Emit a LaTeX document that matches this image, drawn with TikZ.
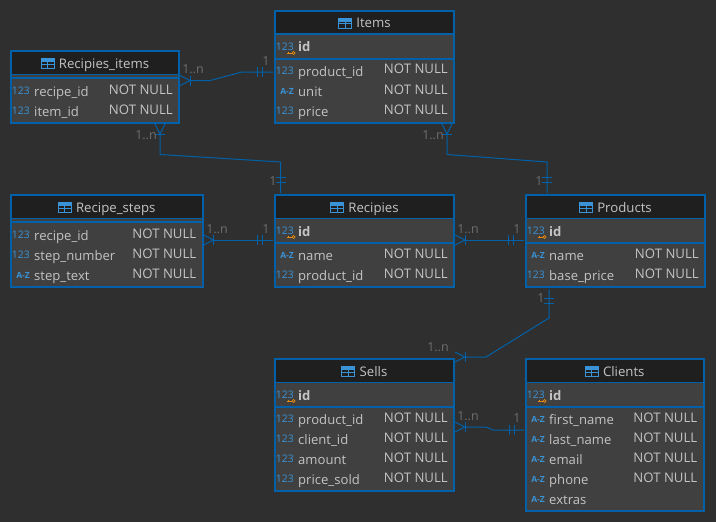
\documentclass[tikz,border=0pt]{standalone}
\usepackage{fontspec}
\setmainfont{Open Sans}
\usetikzlibrary{positioning}

\definecolor{canvasbg}{HTML}{2F2F2F}
\definecolor{headbg}{HTML}{1F1F1F}
\definecolor{rowbg}{HTML}{404040}
\definecolor{erblue}{HTML}{0061A8}
\definecolor{iconblue}{HTML}{3A93D6}
\definecolor{keyorange}{HTML}{E8890C}
\definecolor{coltext}{HTML}{C4C4C4}
\definecolor{cardtext}{HTML}{6E6E6E}

\tikzset{
    tablebody/.style={rectangle, fill=rowbg, inner sep=0pt, outer sep=0pt},
    tableline/.style={draw=erblue, line width=1.2pt},
    tableframe/.style={draw=erblue, line width=2pt},
    tabletitle/.style={text=coltext, font=\fontsize{13.2}{15}\selectfont, inner sep=0pt, text height=9.5pt, text depth=3pt},
    tabicon/.style={rectangle, draw=iconblue, line width=1pt, minimum width=13pt, minimum height=10pt, inner sep=0pt, yshift=1pt,
        path picture={
            \fill[iconblue] (path picture bounding box.north west) rectangle ([yshift=-3pt]path picture bounding box.north east);
            \draw[iconblue, line width=.9pt] (path picture bounding box.west) -- (path picture bounding box.east);
            \draw[iconblue, line width=.9pt] (path picture bounding box.north) -- (path picture bounding box.south);
        }},
    colname/.style={anchor=base west, inner sep=0pt, text=coltext, font=\fontsize{13.1}{15}\selectfont},
    colnull/.style={anchor=base east, inner sep=0pt, text=coltext, font=\fontsize{13.2}{15}\selectfont},
    typeicon/.style={anchor=base east, inner sep=0pt, text=iconblue},
    rel/.style={draw=erblue, line width=1pt},
    card/.style={text=cardtext, inner sep=0pt, font=\fontsize{12.5}{14}\selectfont},
    crow/.pic={
        \draw[rel] (1,-5) -- (11,0) -- (1,5);
        \draw[rel] (11,-5) -- (11,5);
    },
    onebars/.pic={
        \draw[rel] (0,-5) -- (0,5);
        \draw[rel] (5,-5) -- (5,5);
    },
}

% name, x1, y1, x2, y2, end of header, end of key part, title
\newcommand{\ertable}[8]{
    \node[tablebody, minimum width={(#4-#2)*1pt}, minimum height={(#5-#3)*1pt}] (#1) at ({(#2+#4)/2},{(#3+#5)/2}) {};
    \fill[headbg] (#1.north west) rectangle (#1.east |- 0,#6);
    \draw[tableline] (#1.west |- 0,#6) -- (#1.east |- 0,#6);
    \draw[tableline] (#1.west |- 0,#7) -- (#1.east |- 0,#7);
    \draw[tableframe] (#1.north west) rectangle (#1.south east);
    \node[tabletitle] (#1Title) at ({(#2+#4)/2+9},{(#3+#6)/2+2.2}) {#8};
    \node[tabicon, left=4pt of #1Title] (#1Icon) {};
}
\newcommand{\intcol}{\fontsize{10.4}{12}\selectfont 123}
\newcommand{\strcol}{\fontsize{8.5}{10}\selectfont\bfseries A-Z}

% table, row, y, icon, column, null text
\newcommand{\errow}[6]{
    \node[typeicon] (#1Type#2) at ([xshift=19pt]#1.west |- 0,{#3+3.5}) {#4};
    \node[colname] (#1Col#2) at ([xshift=23pt]#1.west |- 0,{#3+5}) {#5};
    \node[colnull] (#1Null#2) at ([xshift=-6pt]#1.east |- 0,{#3+3}) {#6};
}
% table, y
\newcommand{\erkey}[2]{
    \node[typeicon] (#1KeyType) at ([xshift=19pt]#1.west |- 0,{#2+3}) {\intcol};
    \node[colname, font=\fontsize{13.1}{15}\selectfont\bfseries] (#1KeyCol) at ([xshift=23pt]#1.west |- 0,{#2+5}) {id};
    \node[circle, draw=keyorange, line width=.8pt, minimum size=3pt, inner sep=0pt] (#1Key) at ([xshift=18.6pt]#1.west |- 0,{#2+6}) {};
    \draw[keyorange, line width=.8pt] (#1Key.west) -- ++(-4.5,0) ++(1.5,0) -- ++(0,-1.5);
}

\begin{document}
\begin{tikzpicture}[x=1pt, y=-1pt]
    \useasboundingbox[fill=canvasbg] (0,0) rectangle (716,522);

    \ertable{Items}{275}{11}{454}{123}{34}{59}{Items}
    \ertable{RecipiesItems}{11}{51}{179}{123}{74.5}{78}{Recipies\_items}
    \ertable{RecipeSteps}{11}{195}{202.5}{287}{218.5}{222}{Recipe\_steps}
    \ertable{Recipies}{275}{195}{454}{287}{218.5}{243}{Recipies}
    \ertable{Products}{526}{195}{705}{287}{218.5}{243}{Products}
    \ertable{Sells}{275}{359}{454}{491}{382.5}{407}{Sells}
    \ertable{Clients}{526}{359}{703.5}{511}{382.5}{407}{Clients}

    \erkey{Items}{47}
    \errow{Items}{1}{71}{\intcol}{product\_id}{NOT NULL}
    \errow{Items}{2}{91}{\strcol}{unit}{NOT NULL}
    \errow{Items}{3}{111}{\intcol}{price}{NOT NULL}

    \errow{RecipiesItems}{1}{91}{\intcol}{recipe\_id}{NOT NULL}
    \errow{RecipiesItems}{2}{111}{\intcol}{item\_id}{NOT NULL}

    \errow{RecipeSteps}{1}{235}{\intcol}{recipe\_id}{NOT NULL}
    \errow{RecipeSteps}{2}{255}{\intcol}{step\_number}{NOT NULL}
    \errow{RecipeSteps}{3}{275}{\strcol}{step\_text}{NOT NULL}

    \erkey{Recipies}{231}
    \errow{Recipies}{1}{255}{\strcol}{name}{NOT NULL}
    \errow{Recipies}{2}{275}{\intcol}{product\_id}{NOT NULL}

    \erkey{Products}{231}
    \errow{Products}{1}{255}{\strcol}{name}{NOT NULL}
    \errow{Products}{2}{275}{\intcol}{base\_price}{NOT NULL}

    \erkey{Sells}{395}
    \errow{Sells}{1}{419}{\intcol}{product\_id}{NOT NULL}
    \errow{Sells}{2}{439}{\intcol}{client\_id}{NOT NULL}
    \errow{Sells}{3}{459}{\intcol}{amount}{NOT NULL}
    \errow{Sells}{4}{479}{\intcol}{price\_sold}{NOT NULL}

    \erkey{Clients}{395}
    \errow{Clients}{1}{419}{\strcol}{first\_name}{NOT NULL}
    \errow{Clients}{2}{439}{\strcol}{last\_name}{NOT NULL}
    \errow{Clients}{3}{459}{\strcol}{email}{NOT NULL}
    \errow{Clients}{4}{479}{\strcol}{phone}{NOT NULL}
    \errow{Clients}{5}{499}{\strcol}{extras}{}

    % Recipies_items - Items
    \coordinate (riFoot) at (RecipiesItems.east |- 0,80.5);
    \coordinate (riEnd) at ([xshift=-2pt]Items.west |- 0,72);
    \pic at (riFoot) {crow};
    \pic at (257,72) {onebars};
    \draw[rel] ([xshift=11pt]riFoot) -- (210,80.5) -- (242,72) -- (riEnd);
    \node[card] (riMany) at (193,69) {1..n};
    \node[card] (riOne) at (266,61) {1};

    % Recipies_items - Recipies
    \coordinate (rrFoot) at (160,0 |- RecipiesItems.south);
    \coordinate (rrEnd) at ([yshift=2pt]280.7,0 |- Recipies.north);
    \pic[rotate=-90] at (rrFoot) {crow};
    \pic[rotate=-90] at (280.7,177.5) {onebars};
    \draw[rel] ([yshift=-11pt]rrFoot) -- (160,154.5) -- (280.7,162) -- (rrEnd);
    \node[card] (rrMany) at (146,135) {1..n};
    \node[card] (rrOne) at (273,181) {1};

    % Items - Products
    \coordinate (ipFoot) at (447,0 |- Items.south);
    \coordinate (ipEnd) at ([yshift=2pt]547,0 |- Products.north);
    \pic[rotate=-90] at (ipFoot) {crow};
    \pic[rotate=-90] at (547,177.5) {onebars};
    \draw[rel] ([yshift=-11pt]ipFoot) -- (447,154.5) -- (547,162) -- (ipEnd);
    \node[card] (ipMany) at (433,135) {1..n};
    \node[card] (ipOne) at (539,181) {1};

    % Recipe_steps - Recipies
    \coordinate (srFoot) at (RecipeSteps.east |- 0,240);
    \coordinate (srEnd) at ([xshift=-2pt]Recipies.west |- 0,240);
    \pic at (srFoot) {crow};
    \pic at (257,240) {onebars};
    \draw[rel] ([xshift=11pt]srFoot) -- (srEnd);
    \node[card] (srMany) at (217,229) {1..n};
    \node[card] (srOne) at (266,229) {1};

    % Recipies - Products
    \coordinate (rpFoot) at (Recipies.east |- 0,240);
    \coordinate (rpEnd) at ([xshift=-2pt]Products.west |- 0,240);
    \pic at (rpFoot) {crow};
    \pic at (508,240) {onebars};
    \draw[rel] ([xshift=11pt]rpFoot) -- (rpEnd);
    \node[card] (rpMany) at (468,229) {1..n};
    \node[card] (rpOne) at (517,229) {1};

    % Products - Sells
    \coordinate (psFoot) at (Sells.east |- 0,357);
    \coordinate (psStart) at ([yshift=-2pt]549,0 |- Products.south);
    \pic at (psFoot) {crow};
    \pic[rotate=-90] at (549,298) {onebars};
    \draw[rel] (psStart) -- (549,318) -- (486,357) -- ([xshift=11pt]psFoot);
    \node[card] (psMany) at (438,347) {1..n};
    \node[card] (psOne) at (541,298) {1};

    % Sells - Clients
    \coordinate (scFoot) at (Sells.east |- 0,427);
    \coordinate (scEnd) at ([xshift=-2pt]Clients.west |- 0,430);
    \pic at (scFoot) {crow};
    \pic at (509,430) {onebars};
    \draw[rel] ([xshift=11pt]scFoot) -- (486,427) -- (493,430) -- (scEnd);
    \node[card] (scMany) at (468,416) {1..n};
    \node[card] (scOne) at (517,418) {1};
\end{tikzpicture}
\end{document}
